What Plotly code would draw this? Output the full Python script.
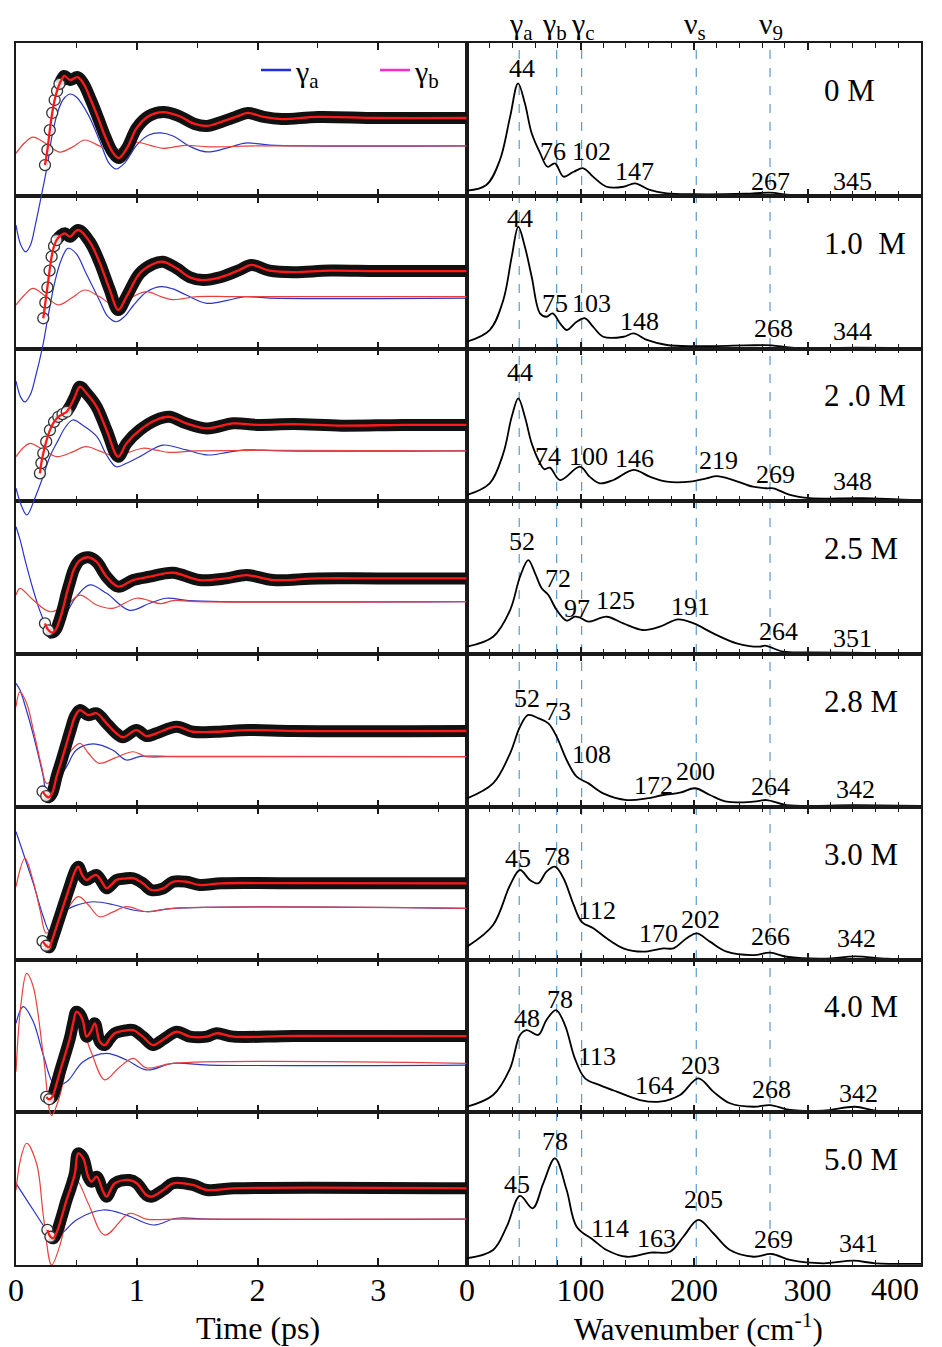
import plotly.graph_objects as go
from plotly.subplots import make_subplots

FONT = "Liberation Serif"

# ---------------- concentration labels ----------------
CONC_LABELS = ["0 M", "1.0  M", "2 .0 M", "2.5 M", "2.8 M", "3.0 M", "4.0 M", "5.0 M"]

# ---------------- time-domain signals (a.u., each panel spans 0..10) ----------------
T_FIT_0M = [0.24,0.26,0.28,0.30,0.32,0.34,0.36,0.38,0.40,0.45,0.51,0.56,0.62,0.68,0.74,0.80,0.85,0.92,1.00,1.10,1.22,1.35,1.48,1.58,1.70,1.82,1.92,2.05,2.20,2.50,3.00,3.73]
FIT_0M = [2.01,3.0,4.3,5.42,6.27,6.86,7.32,7.64,7.84,7.58,7.77,7.32,6.27,5.09,3.85,2.86,2.47,3.13,4.44,5.22,5.48,5.22,4.70,4.57,4.83,5.16,5.42,5.16,5.02,5.16,5.09,5.09]
T_GA_0M = [0,0.04,0.08,0.12,0.16,0.21,0.26,0.30,0.35,0.40,0.45,0.50,0.60,0.70,0.77,0.83,0.90,1.00,1.10,1.20,1.30,1.45,1.58,1.75,1.90,2.10,2.40,3.73]
GA_0M = [-1.92,-3.22,-3.67,-3.22,-1.92,0.0,2.0,3.98,5.6,6.4,6.66,6.46,5.28,3.45,2.14,1.75,2.14,3.32,3.98,4.11,3.91,3.19,2.87,3.13,3.45,3.32,3.26,3.26]
T_GB_0M = [0,0.07,0.14,0.25,0.36,0.47,0.57,0.68,0.79,0.90,1.00,1.11,1.22,1.40,1.60,2.00,3.73]
GB_0M = [2.78,3.45,3.84,3.4,2.86,3.2,3.65,3.3,2.95,3.2,3.5,3.3,3.1,3.3,3.2,3.26,3.26]

T_FIT_1M = [0.226,0.243,0.26,0.278,0.295,0.315,0.336,0.37,0.405,0.446,0.515,0.61,0.69,0.777,0.846,0.915,1.025,1.135,1.216,1.33,1.44,1.55,1.69,1.85,1.95,2.1,2.3,2.6,3.0,3.73]
FIT_1M = [1.98,3.0,4.0,5.1,6.01,6.7,7.10,7.4,7.54,7.32,7.76,6.99,5.68,3.83,2.52,3.39,4.92,5.53,5.68,5.25,4.66,4.48,4.66,5.14,5.47,5.1,5.0,5.1,5.07,5.07]
T_GA_1M = [0,0.04,0.074,0.12,0.16,0.22,0.27,0.32,0.37,0.43,0.50,0.58,0.69,0.76,0.83,0.90,0.97,1.08,1.20,1.30,1.41,1.58,1.75,1.90,2.10,3.73]
GA_1M = [-2.13,-3.2,-3.5,-3.0,-1.9,0.1,2.3,4.3,5.7,6.56,6.2,4.92,3.18,2.1,1.75,2.1,2.8,3.7,4.05,3.9,3.5,2.96,3.15,3.39,3.3,3.3]
T_GB_1M = [0,0.07,0.14,0.25,0.35,0.46,0.57,0.69,0.80,0.94,1.08,1.20,1.30,1.50,1.80,3.73]
GB_1M = [2.85,3.5,3.94,3.4,2.85,3.3,3.83,3.4,2.9,3.3,3.72,3.4,3.2,3.4,3.39,3.4]

T_FIT_2M = [0.198,0.21,0.226,0.25,0.281,0.315,0.35,0.385,0.42,0.455,0.488,0.529,0.584,0.667,0.75,0.846,0.915,1.025,1.16,1.27,1.41,1.58,1.8,2.0,2.3,2.7,3.2,3.73]
FIT_2M = [1.83,2.5,3.14,3.9,4.66,5.2,5.53,5.7,5.86,6.3,6.84,7.5,7.07,6.19,4.66,2.92,3.79,4.66,5.32,5.53,5.1,4.77,5.1,5.0,5.05,4.95,5.0,5.0]
T_GA_2M = [0,0.05,0.09,0.16,0.22,0.28,0.35,0.41,0.47,0.55,0.67,0.75,0.83,0.92,1.025,1.12,1.22,1.41,1.58,1.75,1.9,2.2,3.73]
GA_2M = [0.85,-0.4,-0.9,0.28,1.52,2.92,4.0,4.86,5.32,4.99,4.23,3.03,2.26,2.5,2.92,3.36,3.68,3.36,3.03,3.2,3.36,3.3,3.3]
T_GB_2M = [0,0.06,0.116,0.22,0.336,0.46,0.58,0.69,0.80,0.93,1.05,1.16,1.27,1.5,3.73]
GB_2M = [2.92,3.5,3.79,3.4,2.92,3.2,3.57,3.3,3.0,3.2,3.47,3.35,3.2,3.3,3.3]

T_FIT_25M = [0.24,0.27,0.30,0.33,0.36,0.39,0.42,0.45,0.48,0.53,0.60,0.667,0.75,0.846,0.97,1.107,1.3,1.52,1.74,1.91,2.13,2.5,3.0,3.73]
FIT_25M = [2.0,1.55,1.4,1.6,2.2,3.0,3.97,4.8,5.55,6.15,6.33,6.04,5.06,4.41,4.84,5.06,5.32,4.84,4.95,5.17,4.84,4.95,4.95,4.95]
T_GA_25M = [0,0.033,0.08,0.143,0.19,0.226,0.281,0.33,0.39,0.5,0.612,0.75,0.94,1.107,1.245,1.43,1.7,3.73]
GA_25M = [8.33,7.5,6.0,4.19,3.0,2.23,1.03,1.4,2.23,3.75,4.52,3.97,2.86,3.32,3.65,3.5,3.43,3.43]
T_GB_25M = [0,0.033,0.14,0.281,0.42,0.53,0.667,0.80,1.0,1.2,1.3,1.5,3.73]
GB_25M = [3.86,4.3,3.55,2.77,3.2,3.86,3.21,2.99,3.65,3.3,3.5,3.43,3.43]

T_FIT_28M = [0.22,0.25,0.27,0.30,0.336,0.38,0.419,0.455,0.488,0.529,0.598,0.667,0.75,0.83,0.886,0.997,1.08,1.163,1.33,1.465,1.66,1.93,2.3,3.73]
FIT_28M = [1.0,0.7,0.62,0.9,1.97,3.1,4.15,5.1,5.9,6.33,6.0,6.12,5.46,4.81,4.55,5.02,4.63,4.81,5.24,4.91,4.91,5.02,4.96,4.96]
T_GA_28M = [0,0.033,0.08,0.14,0.226,0.254,0.30,0.419,0.5,0.64,0.8,0.915,1.03,1.3,3.73]
GA_28M = [8.08,7.64,6.5,4.81,1.97,0.88,1.2,2.62,3.71,4.11,3.71,3.06,3.3,3.28,3.28]
T_GB_28M = [0,0.033,0.088,0.15,0.21,0.254,0.33,0.42,0.529,0.6,0.69,0.82,0.97,1.08,1.3,3.73]
GB_28M = [6.55,7.53,6.77,4.8,2.7,1.53,2.0,3.3,4.15,3.5,2.84,3.2,3.6,3.28,3.3,3.28]

T_FIT_3M = [0.22,0.25,0.275,0.30,0.35,0.40,0.45,0.49,0.515,0.55,0.584,0.625,0.667,0.71,0.75,0.79,0.83,0.90,0.97,1.05,1.12,1.22,1.30,1.41,1.52,1.70,2.2,3.73]
FIT_3M = [1.2,0.9,0.8,1.3,2.5,3.7,4.9,5.8,6.08,5.5,5.2,5.4,5.53,5.1,4.66,4.9,5.2,5.3,5.32,4.99,4.55,4.66,5.09,5.09,4.88,4.99,5.0,4.99]
T_GA_3M = [0,0.05,0.143,0.226,0.28,0.33,0.42,0.52,0.64,0.8,0.97,1.1,1.3,3.73]
GA_3M = [8.37,7.2,4.99,2.8,1.82,2.2,3.24,3.6,3.78,3.6,3.24,3.13,3.35,3.35]
T_GB_3M = [0,0.074,0.14,0.2,0.25,0.32,0.4,0.515,0.6,0.69,0.8,0.915,1.08,1.3,3.73]
GB_3M = [4.77,6.62,5.2,3.2,1.72,2.3,3.0,4.11,3.57,2.8,3.1,3.46,3.13,3.35,3.35]

T_FIT_4M = [0.25,0.275,0.30,0.33,0.364,0.40,0.446,0.475,0.50,0.53,0.556,0.584,0.62,0.653,0.694,0.735,0.775,0.818,0.90,0.97,1.05,1.135,1.22,1.33,1.44,1.58,1.66,1.80,2.3,3.73]
FIT_4M = [1.0,0.85,1.0,1.7,2.66,3.6,4.84,5.9,6.58,6.4,5.93,4.95,5.3,5.82,4.62,4.4,4.8,5.17,5.35,5.38,4.95,4.4,4.77,5.27,4.95,4.95,5.17,4.95,5.0,4.99]
T_GA_4M = [0,0.06,0.143,0.226,0.322,0.42,0.556,0.75,0.915,1.08,1.3,1.6,3.73]
GA_4M = [5.82,6.91,5.93,3.75,1.78,2.0,3.31,3.86,3.42,2.77,3.2,3.09,3.09]
T_GB_4M = [0,0.04,0.088,0.14,0.226,0.295,0.36,0.42,0.515,0.62,0.735,0.85,0.97,1.08,1.3,3.73]
GB_4M = [2.66,7.0,9.09,8.3,3.75,-0.2,1.0,3.09,6.04,4.0,2.12,2.9,3.53,2.9,3.2,3.2]

T_FIT_5M = [0.26,0.285,0.309,0.34,0.38,0.419,0.455,0.488,0.515,0.556,0.598,0.625,0.667,0.722,0.75,0.818,0.94,1.0,1.08,1.12,1.22,1.30,1.465,1.58,1.8,3.73]
FIT_5M = [2.3,1.85,1.75,2.2,3.2,4.26,5.1,6.0,7.31,7.0,5.78,5.45,5.78,4.8,4.47,5.35,5.56,5.35,4.58,4.47,4.91,5.35,5.24,4.91,5.02,5.02]
T_GA_5M = [0,0.143,0.254,0.322,0.4,0.5,0.72,0.915,1.135,1.33,1.6,3.73]
GA_5M = [5.35,3.6,2.29,1.75,2.2,2.95,3.6,3.27,2.62,3.06,3.0,3.0]
T_GB_5M = [0,0.04,0.088,0.17,0.23,0.295,0.36,0.42,0.5,0.6,0.735,0.94,1.08,1.3,3.73]
GB_5M = [4.91,7.0,7.97,6.66,3.0,0.0,1.2,3.16,5.56,4.0,1.96,3.38,3.0,3.0,3.0]

# ---------------- spectra (wavenumber cm-1, intensity a.u.) ----------------
W_0M = [0,17,29,38,45,51,57,64.5,71,77.5,85,94,102.5,111,123,138,148,161,176,200,245,267,285,314,345,400]
S_0M = [0.33,0.7,2.34,5.18,7.36,6.05,4.09,2.78,1.9,2.12,1.25,1.57,1.8,1.25,0.59,0.59,0.81,0.38,0.16,0.1,0.13,0.2,0.05,0.02,0.05,0.02]
W_1M = [0,20,32,39.4,45.2,51,57,64.3,70,75.5,82,88,96.6,104,111,120,138,146.8,158.5,176,200,245,268.5,286,344,400]
S_1M = [0.45,1.21,3.18,6.01,7.97,6.66,4.7,2.3,2.08,2.3,1.65,1.21,1.75,1.98,1.43,0.77,0.77,0.99,0.56,0.23,0.15,0.2,0.21,0.05,0.06,0.03]
W_2M = [0,20,32,39.4,45.2,51,57,64.3,68,73,82,99.6,108,117,129,146.8,161,176,196.5,211,220,234.6,252,264,270,284.6,302,348,400]
S_2M = [0.41,1.17,3.14,5.53,6.74,5.53,3.79,2.5,2.1,2.2,1.39,2.26,1.61,1.17,1.39,2.05,1.61,1.28,1.28,1.5,1.65,1.39,0.95,0.85,0.85,0.41,0.2,0.2,0.05]
W_25M = [0,23,38,46.7,54,60,65.8,71.7,79,87.8,95,99,106.9,123,137.7,155,170,186,199.7,217,237.6,258,262.6,278.7,302,351,400]
S_25M = [0.48,1.13,2.88,5.06,6.15,5.28,4.3,3.86,2.88,2.18,2.44,2.4,2.12,2.44,2.0,1.57,1.79,2.27,2.0,1.35,0.7,0.48,0.55,0.15,0.1,0.08,0.05]
W_28M = [0,23,38,46.7,54,63,71.7,79,87.8,96.6,107,120,141,158.4,173,187.7,200.9,214,228.8,252.5,264,281.6,342,400]
S_28M = [0.55,1.53,3.5,5.24,6.01,5.79,5.46,4.59,3.06,1.97,1.53,0.88,0.44,0.55,0.77,0.92,1.21,0.77,0.33,0.33,0.44,0.11,0.1,0.05]
W_3M = [0,23,38,46.7,55.5,62.8,70,77.5,85,94,101,111.3,123,137.7,155,173,181.8,193.6,202.4,214,228.8,252.5,267,281.6,314,342,370,400]
S_3M = [0.84,2.26,4.88,5.86,5.2,4.99,5.75,6.08,5.32,3.57,2.47,2.04,1.39,0.73,0.51,0.73,0.73,1.39,1.71,1.17,0.51,0.29,0.45,0.18,0.05,0.2,0.05,0.03]
W_4M = [0,23,38,46.7,52.6,62.8,70,78.4,86.3,95,104,117,131.9,152.4,170,187.7,203.8,217,231.7,252.5,267,284.6,314,341.9,360,400]
S_4M = [0.36,1.13,2.88,5.06,5.38,5.06,6.04,6.69,5.71,3.53,2.22,1.78,1.35,0.8,0.69,1.13,2.22,1.35,0.59,0.36,0.47,0.15,0.1,0.36,0.1,0.03]
W_5M = [0,23,35,46.7,57.9,67.2,77.5,87.8,96.6,111.3,123,141,161.7,178.9,190.6,203.8,217,231.7,252.5,268.4,284.6,314,340.4,360,400]
S_5M = [0.44,0.98,2.51,4.52,3.71,5.35,6.98,4.91,2.51,1.64,0.98,0.54,0.81,0.87,1.85,2.95,2.08,0.98,0.54,0.72,0.33,0.11,0.28,0.11,0.07]

# ---------------- peak labels (values) ----------------
PEAKS_0M = [44, 76, 102, 147, 267, 345]
PEAKS_1M = [44, 75, 103, 148, 268, 344]
PEAKS_2M = [44, 74, 100, 146, 219, 269, 348]
PEAKS_25M = [52, 72, 97, 125, 191, 264, 351]
PEAKS_28M = [52, 73, 108, 172, 200, 264, 342]
PEAKS_3M = [45, 78, 112, 170, 202, 266, 342]
PEAKS_4M = [48, 78, 113, 164, 203, 268, 342]
PEAKS_5M = [45, 78, 114, 163, 205, 269, 341]

# reference mode positions (cm-1) and names
MODE_POS = [46, 79, 101, 202, 267]
MODE_NAMES = ["γ<sub>a</sub>", "γ<sub>b</sub>", "γ<sub>c</sub>", "ν<sub>s</sub>", "ν<sub>9</sub>"]

# ---------------- layout helpers (label placement only) ----------------
LBL_X = [
    [48.2, 76.1, 109.9, 148, 267, 340],
    [46.7, 77.5, 109.9, 152.4, 269.9, 340],
    [46.7, 71.7, 106.9, 148, 221.4, 271.4, 340],
    [48.2, 80.4, 96.6, 130.4, 196.5, 274.3, 340],
    [52.6, 80.4, 109.9, 164, 200.9, 267, 341.9],
    [45.2, 79, 114.3, 168.5, 205.3, 267, 343.4],
    [52.6, 82, 114.3, 165.6, 205.3, 268.4, 344.8],
    [43.8, 77.5, 126, 167.1, 208.2, 269.9, 344.8],
]
LBL_Y = [
    [8.35, 2.88, 2.88, 1.58, 0.92, 0.92],
    [8.52, 2.96, 2.96, 1.75, 1.32, 1.1],
    [8.43, 2.92, 2.92, 2.82, 2.7, 1.72, 1.28],
    [7.35, 4.96, 2.99, 3.53, 3.1, 1.46, 1.03],
    [7.1, 6.22, 3.39, 1.42, 2.31, 1.31, 1.1],
    [6.63, 6.73, 3.24, 1.71, 2.59, 1.49, 1.38],
    [6.15, 7.35, 3.64, 1.78, 3.09, 1.46, 1.24],
    [5.24, 8.07, 2.4, 1.75, 4.26, 1.64, 1.42],
]
MODE_LBL_X = [48, 77.5, 102.5, 200.9, 268]
N_OPEN = [7, 7, 9, 2, 2, 2, 2, 2]

T_FIT = [T_FIT_0M, T_FIT_1M, T_FIT_2M, T_FIT_25M, T_FIT_28M, T_FIT_3M, T_FIT_4M, T_FIT_5M]
FIT = [FIT_0M, FIT_1M, FIT_2M, FIT_25M, FIT_28M, FIT_3M, FIT_4M, FIT_5M]
T_GA = [T_GA_0M, T_GA_1M, T_GA_2M, T_GA_25M, T_GA_28M, T_GA_3M, T_GA_4M, T_GA_5M]
GA = [GA_0M, GA_1M, GA_2M, GA_25M, GA_28M, GA_3M, GA_4M, GA_5M]
T_GB = [T_GB_0M, T_GB_1M, T_GB_2M, T_GB_25M, T_GB_28M, T_GB_3M, T_GB_4M, T_GB_5M]
GB = [GB_0M, GB_1M, GB_2M, GB_25M, GB_28M, GB_3M, GB_4M, GB_5M]
WN = [W_0M, W_1M, W_2M, W_25M, W_28M, W_3M, W_4M, W_5M]
SP = [S_0M, S_1M, S_2M, S_25M, S_28M, S_3M, S_4M, S_5M]
PEAKS = [PEAKS_0M, PEAKS_1M, PEAKS_2M, PEAKS_25M, PEAKS_28M, PEAKS_3M, PEAKS_4M, PEAKS_5M]

NROW = 8
TMAX = 3.735
LINE_C = "#1a1a1a"

fig = make_subplots(rows=NROW, cols=2, horizontal_spacing=0, vertical_spacing=0,
                    column_widths=[451, 454])

# frames / ticks
for r in range(1, NROW + 1):
    last = (r == NROW)
    common = dict(showline=True, linecolor=LINE_C, linewidth=1.6, mirror="ticks",
                  ticks="inside", ticklen=7, tickwidth=1.5, tickcolor=LINE_C,
                  showgrid=False, zeroline=False, showticklabels=last,
                  tickfont=dict(family=FONT, size=32, color="black"),
                  ticklabelstandoff=-4)
    fig.update_xaxes(row=r, col=1, range=[0, TMAX], tick0=0, dtick=1,
                     minor=dict(dtick=0.5, ticks="inside", ticklen=5, tickwidth=1.3, tickcolor=LINE_C),
                     **common)
    fig.update_xaxes(row=r, col=2, range=[0, 400],
                     tickvals=[0, 100, 200, 300, 400], ticktext=["0", "100", "200", "300", ""],
                     minor=dict(dtick=20, ticks="inside", ticklen=5, tickwidth=1.3, tickcolor=LINE_C),
                     **common)
    for c in (1, 2):
        fig.update_yaxes(row=r, col=c, range=[0, 10], showline=True, linecolor=LINE_C,
                         linewidth=1.6, mirror=True, ticks="", showticklabels=False,
                         showgrid=False, zeroline=False)
    # empty placeholder so each time-domain frame is drawn
    fig.add_trace(go.Scatter(x=[None], y=[None], mode="lines", showlegend=False, hoverinfo="skip"),
                  row=r, col=1)

# overlay axes spanning the whole left column, so curves may cross panel borders
lay = {}
lay["xaxis17"] = dict(domain=[0, 451 / 905], range=[0, TMAX], visible=False, anchor="y17")
for i in range(NROW):
    lo = -(NROW - 1 - i) * 10
    ax = dict(range=[lo, lo + NROW * 10], visible=False, anchor="x17")
    if i == 0:
        ax["domain"] = [0, 1]
    else:
        ax["overlaying"] = "y17"
    lay[f"yaxis{17 + i}"] = ax
fig.update_layout(**lay)

BLUE = "#2b35c8"
RED = "#e8413f"

for i in range(NROW):
    ya = f"y{17 + i}"
    fig.add_trace(go.Scatter(x=T_GA[i], y=GA[i], mode="lines", line=dict(color=BLUE, width=1.2, shape="spline"),
                             xaxis="x17", yaxis=ya, showlegend=False, hoverinfo="skip"))
    fig.add_trace(go.Scatter(x=T_GB[i], y=GB[i], mode="lines", line=dict(color=RED, width=1.2, shape="spline"),
                             xaxis="x17", yaxis=ya, showlegend=False, hoverinfo="skip"))
    k = N_OPEN[i]
    fig.add_trace(go.Scatter(x=T_FIT[i][k - 1:], y=FIT[i][k - 1:], mode="lines",
                             line=dict(color="#111111", width=12, shape="spline"),
                             xaxis="x17", yaxis=ya, showlegend=False, hoverinfo="skip"))
    fig.add_trace(go.Scatter(x=T_FIT[i][:k], y=FIT[i][:k], mode="markers",
                             marker=dict(symbol="circle", size=11, color="rgba(255,255,255,0.85)",
                                         line=dict(color="#333333", width=1.3)),
                             xaxis="x17", yaxis=ya, showlegend=False, hoverinfo="skip"))
    fig.add_trace(go.Scatter(x=T_FIT[i], y=FIT[i], mode="lines", line=dict(color="#ff1a1a", width=2.3, shape="spline"),
                             xaxis="x17", yaxis=ya, showlegend=False, hoverinfo="skip"))

# legend entries
fig.add_trace(go.Scatter(x=[None], y=[None], mode="lines", line=dict(color="#1f2fe0", width=2.5),
                         name="γ<sub>a</sub>", xaxis="x17", yaxis="y17"))
fig.add_trace(go.Scatter(x=[None], y=[None], mode="lines", line=dict(color="#ff2bd0", width=2.5),
                         name="γ<sub>b</sub>", xaxis="x17", yaxis="y17"))

# spectra
annots = []
for i in range(NROW):
    r = i + 1
    fig.add_trace(go.Scatter(x=WN[i], y=SP[i], mode="lines", line=dict(color="black", width=1.8, shape="spline"),
                             showlegend=False, hoverinfo="skip"), row=r, col=2)
    xr, yr = f"x{2 * r}", f"y{2 * r}"
    for txt, lx, ly in zip(PEAKS[i], LBL_X[i], LBL_Y[i]):
        annots.append(dict(text=str(txt), x=lx, y=ly, xref=xr, yref=yr, showarrow=False,
                           xanchor="center", yanchor="middle",
                           font=dict(family=FONT, size=26, color="black")))
    annots.append(dict(text=CONC_LABELS[i], x=313, y=6.9, xref=xr, yref=yr, showarrow=False,
                       xanchor="left", yanchor="middle", font=dict(family=FONT, size=31, color="black")))

# dashed reference lines + mode labels
shapes = []
for pos in MODE_POS:
    shapes.append(dict(type="line", xref="x2", yref="paper", x0=pos, x1=pos, y0=0, y1=1,
                       line=dict(color="#5b9bc9", width=1.2, dash="dash"), layer="below"))
for name, lx in zip(MODE_NAMES, MODE_LBL_X):
    annots.append(dict(text=name, x=lx, y=1, xref="x2", yref="paper", showarrow=False,
                       xanchor="center", yanchor="bottom", yshift=-4,
                       font=dict(family=FONT, size=30, color="black")))

# axis titles and last tick label
annots.append(dict(text="Time (ps)", x=2.0, xref="x15", y=-0.0515, yref="paper", showarrow=False,
                   xanchor="center", yanchor="middle", font=dict(family=FONT, size=32, color="black")))
annots.append(dict(text="Wavenumber (cm<sup>-1</sup>)", x=204, xref="x16", y=-0.0515, yref="paper",
                   showarrow=False, xanchor="center", yanchor="middle",
                   font=dict(family=FONT, size=31, color="black")))
annots.append(dict(text="400", x=400, xref="x16", y=-0.0194, yref="paper", showarrow=False,
                   xanchor="right", yanchor="middle", font=dict(family=FONT, size=32, color="black")))

fig.update_layout(
    width=942, height=1347,
    margin=dict(l=16, r=21, t=43, b=82, autoexpand=False),
    paper_bgcolor="white", plot_bgcolor="rgba(0,0,0,0)",
    font=dict(family=FONT, color="black"),
    annotations=annots, shapes=shapes,
    showlegend=True,
    legend=dict(orientation="h", x=(256 - 16) / 905, y=(1265 - 70) / 1222, xanchor="left", yanchor="middle",
                font=dict(family=FONT, size=30, color="black"), bgcolor="rgba(0,0,0,0)",
                entrywidth=74, entrywidthmode="pixels", itemwidth=30),
)

fig.write_html("out.html", config={"displayModeBar": False},
               post_script="document.body.style.margin='0';document.body.style.padding='0';")
